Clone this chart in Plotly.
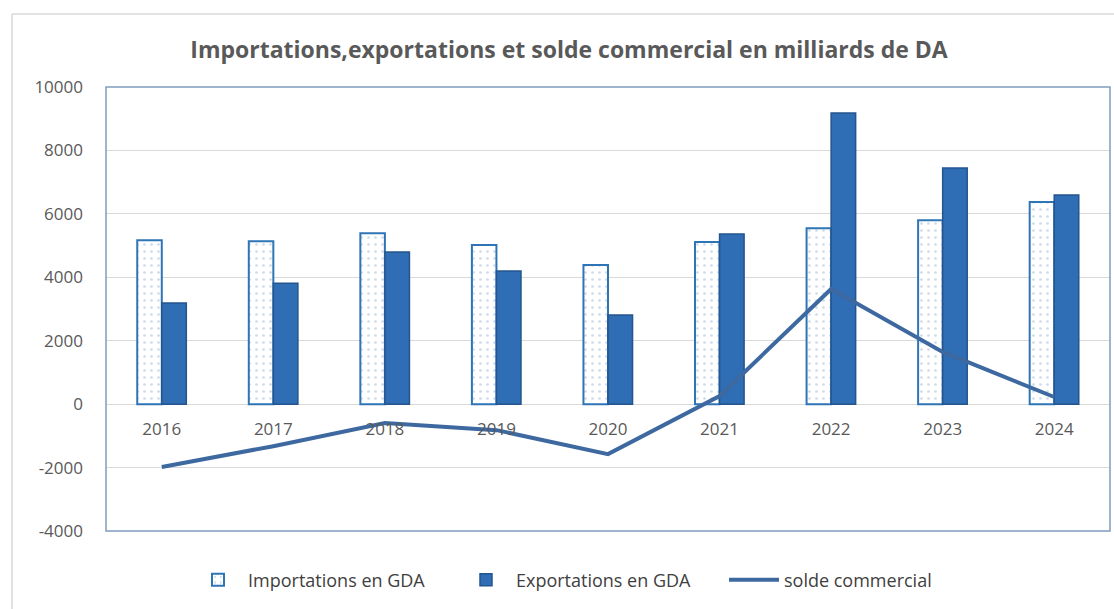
import plotly.graph_objects as go

# Trade figures, billions of DA
years = ["2016", "2017", "2018", "2019", "2020", "2021", "2022", "2023", "2024"]
importations = [5170, 5140, 5390, 5015, 4385, 5110, 5550, 5800, 6370]
exportations = [3190, 3815, 4795, 4195, 2810, 5365, 9180, 7445, 6595]
solde = [-1980, -1325, -595, -820, -1575, 255, 3630, 1645, 225]

y_ticks = [-4000, -2000, 0, 2000, 4000, 6000, 8000, 10000]
y_tick_text = ["-4000", "-2000", "0", "2000", "4000", "6000", "8000", "10000"]

FONT = "Open Sans"
TXT = "#595959"

fig = go.Figure()

fig.add_trace(go.Bar(
    x=years, y=importations, name="Importations en GDA",
    marker=dict(
        color="#FFFFFF",
        line=dict(color="#2E75B6", width=2),
        pattern=dict(shape=".", fgcolor="#9DB6D3", bgcolor="#FFFFFF",
                     size=7, solidity=0.12),
    ),
))

fig.add_trace(go.Bar(
    x=years, y=exportations, name="Exportations en GDA",
    marker=dict(color="#2F6DB5", line=dict(color="#24558F", width=1.5)),
))

fig.add_trace(go.Scatter(
    x=years, y=solde, name="solde commercial", mode="lines",
    line=dict(color="#3D69A0", width=4),
))

# Outer chart frame (left and top edges)
L, R, T, B = 106, 4, 87, 78
W, H = 1114, 609
pw, ph = W - L - R, H - T - B
px = lambda v: (v - L) / pw
py = lambda v: (H - B - v) / ph
fig.add_shape(type="line", xref="paper", yref="paper",
              x0=px(12), x1=px(1114), y0=py(14), y1=py(14),
              line=dict(color="#D9D9D9", width=1.5))
fig.add_shape(type="line", xref="paper", yref="paper",
              x0=px(12), x1=px(12), y0=py(14), y1=py(609),
              line=dict(color="#D9D9D9", width=1.5))

fig.update_layout(
    width=W, height=H,
    margin=dict(l=L, r=R, t=T, b=B),
    paper_bgcolor="white", plot_bgcolor="white",
    barmode="group", bargap=0.56, bargroupgap=0,
    font=dict(family=FONT, color=TXT, size=17),
    title=dict(
        text="<b>Importations,exportations et solde commercial en milliards de DA</b>",
        x=569 / W, xref="container", xanchor="center",
        y=1 - 50 / H, yref="container", yanchor="middle",
        font=dict(family=FONT, size=23, color="#595959"),
    ),
    legend=dict(
        orientation="h", x=px(590), xanchor="center",
        y=py(580), yanchor="middle",
        font=dict(family=FONT, size=18, color="#404040"),
        bgcolor="rgba(0,0,0,0)",
        itemwidth=50, entrywidth=203, entrywidthmode="pixels",
    ),
    xaxis=dict(
        type="category", anchor="free",
        position=(0 - y_ticks[0]) / (y_ticks[-1] - y_ticks[0]),
        showgrid=False, showline=False, zeroline=False,
        ticks="", ticklabelstandoff=13,
        tickfont=dict(family=FONT, size=17, color=TXT),
        showspikes=False,
    ),
    yaxis=dict(
        range=[y_ticks[0], y_ticks[-1]],
        tickvals=y_ticks, ticktext=y_tick_text,
        showgrid=True, gridcolor="#D9D9D9", gridwidth=1,
        zeroline=True, zerolinecolor="#D9D9D9", zerolinewidth=1,
        ticks="", ticklabelstandoff=22,
        tickfont=dict(family=FONT, size=17, color=TXT),
        showline=False,
    ),
)

# Plot-area border
fig.add_shape(type="rect", xref="paper", yref="paper",
              x0=0, x1=1, y0=0, y1=1,
              line=dict(color="#7F9CC0", width=1.5), layer="above")

fig.write_html("out.html")
